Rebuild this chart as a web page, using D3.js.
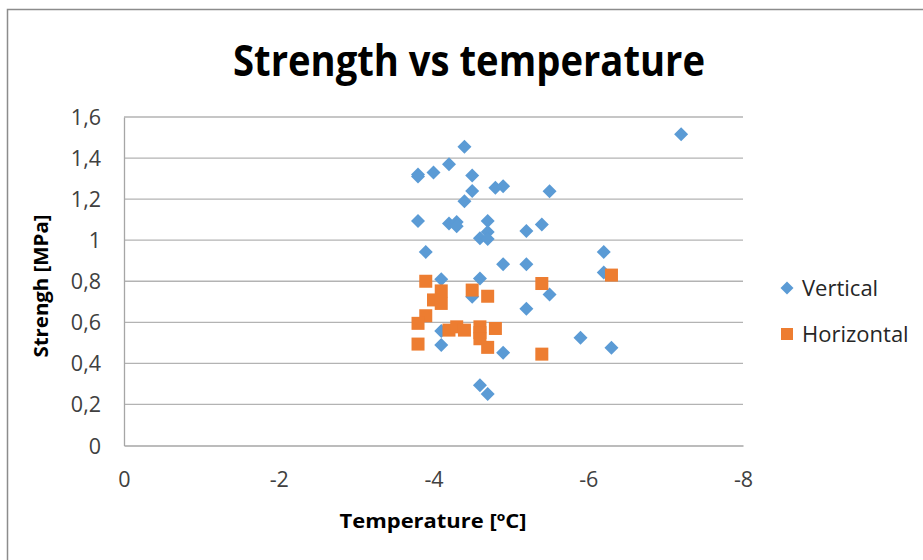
<!DOCTYPE html>
<html>
<head>
<meta charset="utf-8">
<script src="https://cdn.jsdelivr.net/npm/d3@7/dist/d3.min.js"></script>
<style>
  html, body { margin: 0; padding: 0; background: #fff; }
  svg { display: block; }
</style>
</head>
<body>
<svg id="chart" width="923" height="560"></svg>
<script>
// ---- data ----
const verticalX = [-3.8, -3.8, -4.0, -4.2, -4.4, -4.5, -4.5, -4.4, -4.8, -4.9, -5.5,
  -3.8, -4.2, -4.3, -4.3, -4.7, -4.7, -4.6, -4.7, -5.2, -5.4,
  -3.9, -4.9, -5.2, -4.1, -4.6, -7.2, -6.2, -6.2, -5.5, -5.2, -5.9, -6.3,
  -4.5, -4.1, -4.1, -4.9, -4.6, -4.7];
const verticalY = [1.32, 1.31, 1.33, 1.37, 1.455, 1.315, 1.24, 1.19, 1.256, 1.263, 1.238,
  1.094, 1.081, 1.089, 1.068, 1.094, 1.04, 1.01, 1.006, 1.045, 1.076,
  0.943, 0.883, 0.883, 0.81, 0.814, 1.516, 0.943, 0.843, 0.736, 0.666, 0.525, 0.476,
  0.725, 0.558, 0.49, 0.452, 0.294, 0.251];
const horizontalX = [-3.9, -4.1, -4.0, -4.1, -4.5, -4.7, -3.9, -3.8, -4.2, -4.3, -4.4,
  -4.6, -4.6, -4.6, -4.8, -4.7, -3.8, -5.4, -5.4, -6.3];
const horizontalY = [0.80, 0.753, 0.709, 0.692, 0.757, 0.727, 0.632, 0.595, 0.562, 0.578, 0.562,
  0.578, 0.55, 0.52, 0.57, 0.478, 0.494, 0.789, 0.445, 0.83];
const xTicks = [0, -2, -4, -6, -8];
const yTicks = [0, 0.2, 0.4, 0.6, 0.8, 1, 1.2, 1.4, 1.6];
const seriesNames = ["Vertical", "Horizontal"];
const seriesColors = ["#5B9BD5", "#ED7D31"];

// ---- layout ----
const svg = d3.select("#chart");
const W = 923, H = 560;
const plot = { left: 124, right: 743, top: 117, bottom: 445.5 };

const x = d3.scaleLinear().domain([0, -8]).range([plot.left, plot.right]);
const y = d3.scaleLinear().domain([0, 1.6]).range([plot.bottom, plot.top]);

const fmt = v => (Math.round(v * 10) / 10).toString().replace(".", ",");

// outer chart border
svg.append("rect")
  .attr("x", 7.5).attr("y", 9.5)
  .attr("width", W + 20).attr("height", H + 20)
  .attr("fill", "#fff").attr("stroke", "#8c8c8c").attr("stroke-width", 1.5);

// gridlines
svg.append("g")
  .selectAll("line").data(yTicks.filter(t => t > 0)).join("line")
  .attr("x1", plot.left).attr("x2", plot.right)
  .attr("y1", d => y(d)).attr("y2", d => y(d))
  .attr("stroke", "#b3b3b3").attr("stroke-width", 1.3);

// y axis
const yAxis = svg.append("g")
  .attr("transform", `translate(${plot.left},0)`)
  .call(d3.axisLeft(y).tickValues(yTicks).tickFormat(fmt).tickSize(0).tickPadding(23));
yAxis.select(".domain").attr("stroke", "#a6a6a6").attr("stroke-width", 1.3);
yAxis.selectAll("text")
  .attr("font-family", "Open Sans").attr("font-size", 21.5).attr("fill", "#404040")
  .attr("dy", "0.35em");

// x axis
const xAxis = svg.append("g")
  .attr("transform", `translate(0,${plot.bottom})`)
  .call(d3.axisBottom(x).tickValues(xTicks).tickFormat(d => d === 0 ? "0" : "-" + Math.abs(d)).tickSize(0).tickPadding(26));
xAxis.select(".domain").attr("stroke", "#a6a6a6").attr("stroke-width", 1.3);
xAxis.selectAll("text")
  .attr("font-family", "Open Sans").attr("font-size", 21.5).attr("fill", "#404040")
  .attr("dy", "0.71em");

// title
svg.append("text")
  .attr("x", 469).attr("y", 76)
  .attr("text-anchor", "middle")
  .attr("font-family", "Open Sans").attr("font-weight", "bold")
  .attr("font-size", 43).attr("fill", "#000")
  .attr("textLength", 472).attr("lengthAdjust", "spacingAndGlyphs")
  .text("Strength vs temperature");

// axis titles
svg.append("text")
  .attr("x", 433).attr("y", 528)
  .attr("text-anchor", "middle")
  .attr("font-family", "Open Sans").attr("font-weight", "bold")
  .attr("font-size", 20).attr("fill", "#000")
  .attr("textLength", 187).attr("lengthAdjust", "spacingAndGlyphs")
  .text("Temperature [ºC]");

svg.append("text")
  .attr("transform", "translate(48,286) rotate(-90)")
  .attr("text-anchor", "middle")
  .attr("font-family", "Open Sans").attr("font-weight", "bold")
  .attr("font-size", 20).attr("fill", "#000")
  .attr("textLength", 143).attr("lengthAdjust", "spacingAndGlyphs")
  .text("Strengh [MPa]");

// markers
const diamond = s => `M0,${-s}L${s},0L0,${s}L${-s},0Z`;
const vData = verticalX.map((v, i) => ({ x: v, y: verticalY[i] }));
const hData = horizontalX.map((v, i) => ({ x: v, y: horizontalY[i] }));

svg.append("g").selectAll("path").data(vData).join("path")
  .attr("transform", d => `translate(${x(d.x)},${y(d.y)})`)
  .attr("d", diamond(7))
  .attr("fill", seriesColors[0]);

const sq = 13;
svg.append("g").selectAll("rect").data(hData).join("rect")
  .attr("x", d => x(d.x) - sq / 2).attr("y", d => y(d.y) - sq / 2)
  .attr("width", sq).attr("height", sq)
  .attr("fill", seriesColors[1]);

// legend
const legend = svg.append("g");
const ly = [288, 334];
legend.append("path")
  .attr("transform", `translate(787,${ly[0]})`)
  .attr("d", diamond(6.5)).attr("fill", seriesColors[0]);
legend.append("rect")
  .attr("x", 781).attr("y", ly[1] - 6).attr("width", 12).attr("height", 12)
  .attr("fill", seriesColors[1]);
legend.selectAll("text").data(seriesNames).join("text")
  .attr("x", 802).attr("y", (d, i) => ly[i])
  .attr("dy", "0.35em")
  .attr("font-family", "Open Sans").attr("font-size", 22).attr("fill", "#262626")
  .text(d => d);
</script>
</body>
</html>
